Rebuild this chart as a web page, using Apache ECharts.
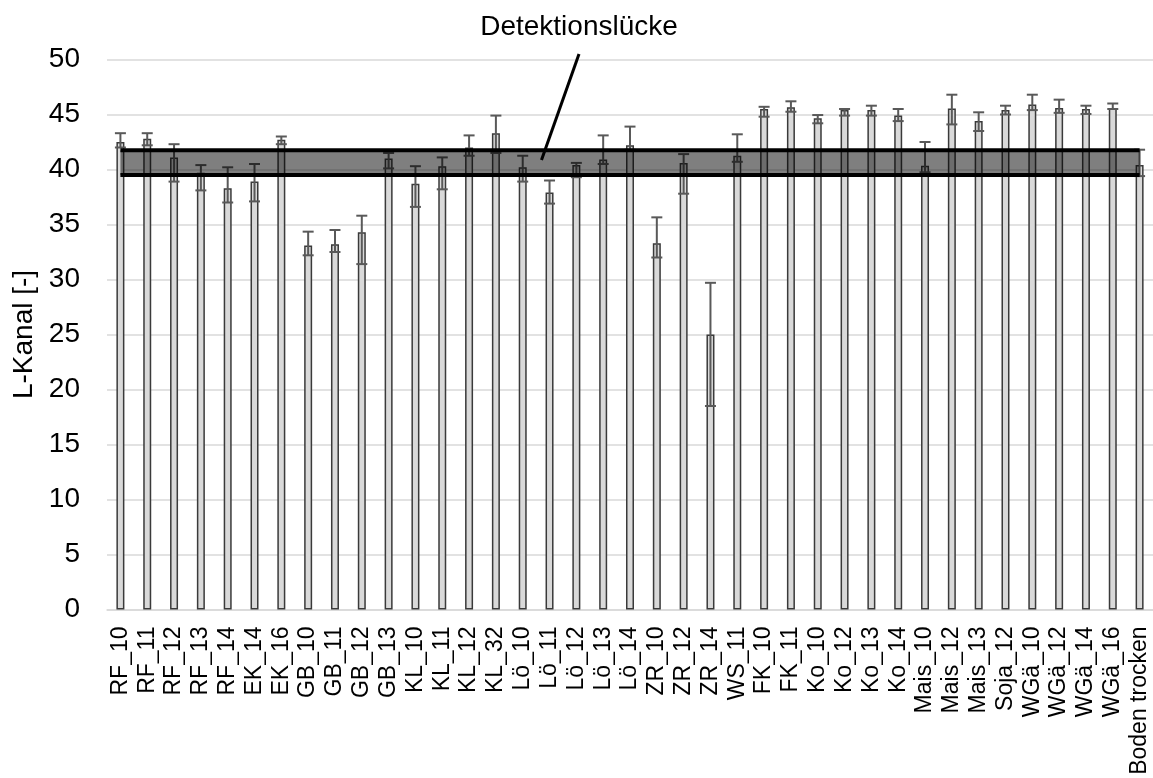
<!DOCTYPE html>
<html>
<head>
<meta charset="utf-8">
<script src="https://cdn.jsdelivr.net/npm/echarts@6/dist/echarts.min.js"></script>
<style>html,body{margin:0;padding:0;background:#fff}#c{width:1153px;height:778px}</style>
</head>
<body>
<div id="c"></div>
<script>
const categories = ['RF_10','RF_11','RF_12','RF_13','RF_14','EK_14','EK_16','GB_10','GB_11','GB_12','GB_13','KL_10','KL_11','KL_12','KL_32','Lö_10','Lö_11','Lö_12','Lö_13','Lö_14','ZR_10','ZR_12','ZR_14','WS_11','FK_10','FK_11','Ko_10','Ko_12','Ko_13','Ko_14','Mais_10','Mais_12','Mais_13','Soja_12','WGä_10','WGä_12','WGä_14','WGä_16','Boden trocken'];
const means = [42.5,42.8,41.1,39.7,38.3,38.9,42.7,33.1,33.2,34.3,41.0,38.7,40.3,42.0,43.3,40.2,37.9,40.4,40.9,42.2,33.3,40.6,25.0,41.25,45.5,45.65,44.65,45.4,45.4,44.9,40.35,45.55,44.4,45.4,45.9,45.6,45.5,45.6,40.4];
const errHigh = [43.3,43.3,42.3,40.4,40.2,40.5,43.0,34.35,34.5,35.8,41.5,40.3,41.1,43.1,44.9,41.25,39.0,40.6,43.1,43.9,35.65,41.4,29.7,43.2,45.7,46.2,44.95,45.5,45.8,45.5,42.5,46.8,45.2,45.8,46.8,46.35,45.8,46.0,41.8];
const errLow = [42.0,42.2,38.9,38.1,37.0,37.1,42.3,32.2,32.5,31.4,40.1,36.6,38.2,41.25,41.5,38.9,36.9,39.3,40.5,41.8,32.0,37.8,18.5,40.7,44.8,45.25,44.2,44.9,44.9,44.4,39.75,44.1,43.5,45.0,45.4,45.15,45.05,45.5,39.4];
const yTicks = [0,5,10,15,20,25,30,35,40,45,50];
const bandRange = [39.5, 41.75];
const bandLabel = 'Detektionslücke';
const yName = 'L-Kanal [-]';

const FONT = '"Liberation Sans", Arial, sans-serif';
const chart = echarts.init(document.getElementById('c'));
const errData = categories.map((c, i) => [i, errLow[i], errHigh[i]]);

chart.setOption({
  animation: false,
  textStyle: { fontFamily: FONT },
  grid: { left: 107, top: 59.5, width: 1046, height: 550, containLabel: false, outerBoundsMode: 'none' },
  xAxis: {
    type: 'category',
    data: categories,
    axisLine: { lineStyle: { color: '#d9d9d9', width: 1.5 } },
    axisTick: { show: false },
    axisLabel: { rotate: 90, fontSize: 23, color: '#000', fontFamily: FONT, margin: 17, interval: 0 }
  },
  yAxis: {
    type: 'value', min: yTicks[0], max: yTicks[yTicks.length - 1], interval: 5,
    name: yName, nameLocation: 'middle', nameGap: 63,
    nameTextStyle: { fontSize: 28, color: '#000', fontFamily: FONT },
    axisLine: { show: false }, axisTick: { show: false },
    axisLabel: { fontSize: 28, color: '#000', fontFamily: FONT, margin: 27 },
    splitLine: { lineStyle: { color: '#d9d9d9', width: 1.5 } }
  },
  series: [
    {
      type: 'bar', data: means, barWidth: 8, z: 2,
      itemStyle: { color: '#d9d9d9', borderColor: '#3a3a3a', borderWidth: 1.5 }
    },
    {
      type: 'custom', z: 3, data: errData,
      renderItem: function (params, api) {
        const x = api.value(0);
        const lo = api.coord([x, api.value(1)]);
        const hi = api.coord([x, api.value(2)]);
        const hw = 5.5;
        const st = { stroke: '#595959', lineWidth: 2 };
        return { type: 'group', children: [
          { type: 'line', shape: { x1: lo[0], y1: lo[1], x2: hi[0], y2: hi[1] }, style: st },
          { type: 'line', shape: { x1: hi[0]-hw, y1: hi[1], x2: hi[0]+hw, y2: hi[1] }, style: st },
          { type: 'line', shape: { x1: lo[0]-hw, y1: lo[1], x2: lo[0]+hw, y2: lo[1] }, style: st }
        ]};
      }
    },
    {
      type: 'custom', z: 5, data: [[0, categories.length - 1, bandRange[0], bandRange[1]]],
      renderItem: function (params, api) {
        const a = api.coord([api.value(0), api.value(3)]);
        const b = api.coord([api.value(1), api.value(2)]);
        return { type: 'group', children: [
          { type: 'rect', shape: { x: a[0], y: a[1], width: b[0]-a[0], height: b[1]-a[1] }, style: { fill: 'rgba(0,0,0,0.5)' } },
          { type: 'line', shape: { x1: a[0], y1: a[1], x2: b[0], y2: a[1] }, style: { stroke: '#000', lineWidth: 4 } },
          { type: 'line', shape: { x1: a[0], y1: b[1], x2: b[0], y2: b[1] }, style: { stroke: '#000', lineWidth: 4 } }
        ]};
      }
    }
  ],
  graphic: [
    { type: 'text', x: 579, y: 27, style: { text: bandLabel, font: '28px ' + FONT, fill: '#000', textAlign: 'center', textVerticalAlign: 'middle' } },
    { type: 'line', shape: { x1: 579, y1: 54, x2: 541.5, y2: 160 }, style: { stroke: '#000', lineWidth: 3 }, z: 10 }
  ]
});
</script>
</body>
</html>
